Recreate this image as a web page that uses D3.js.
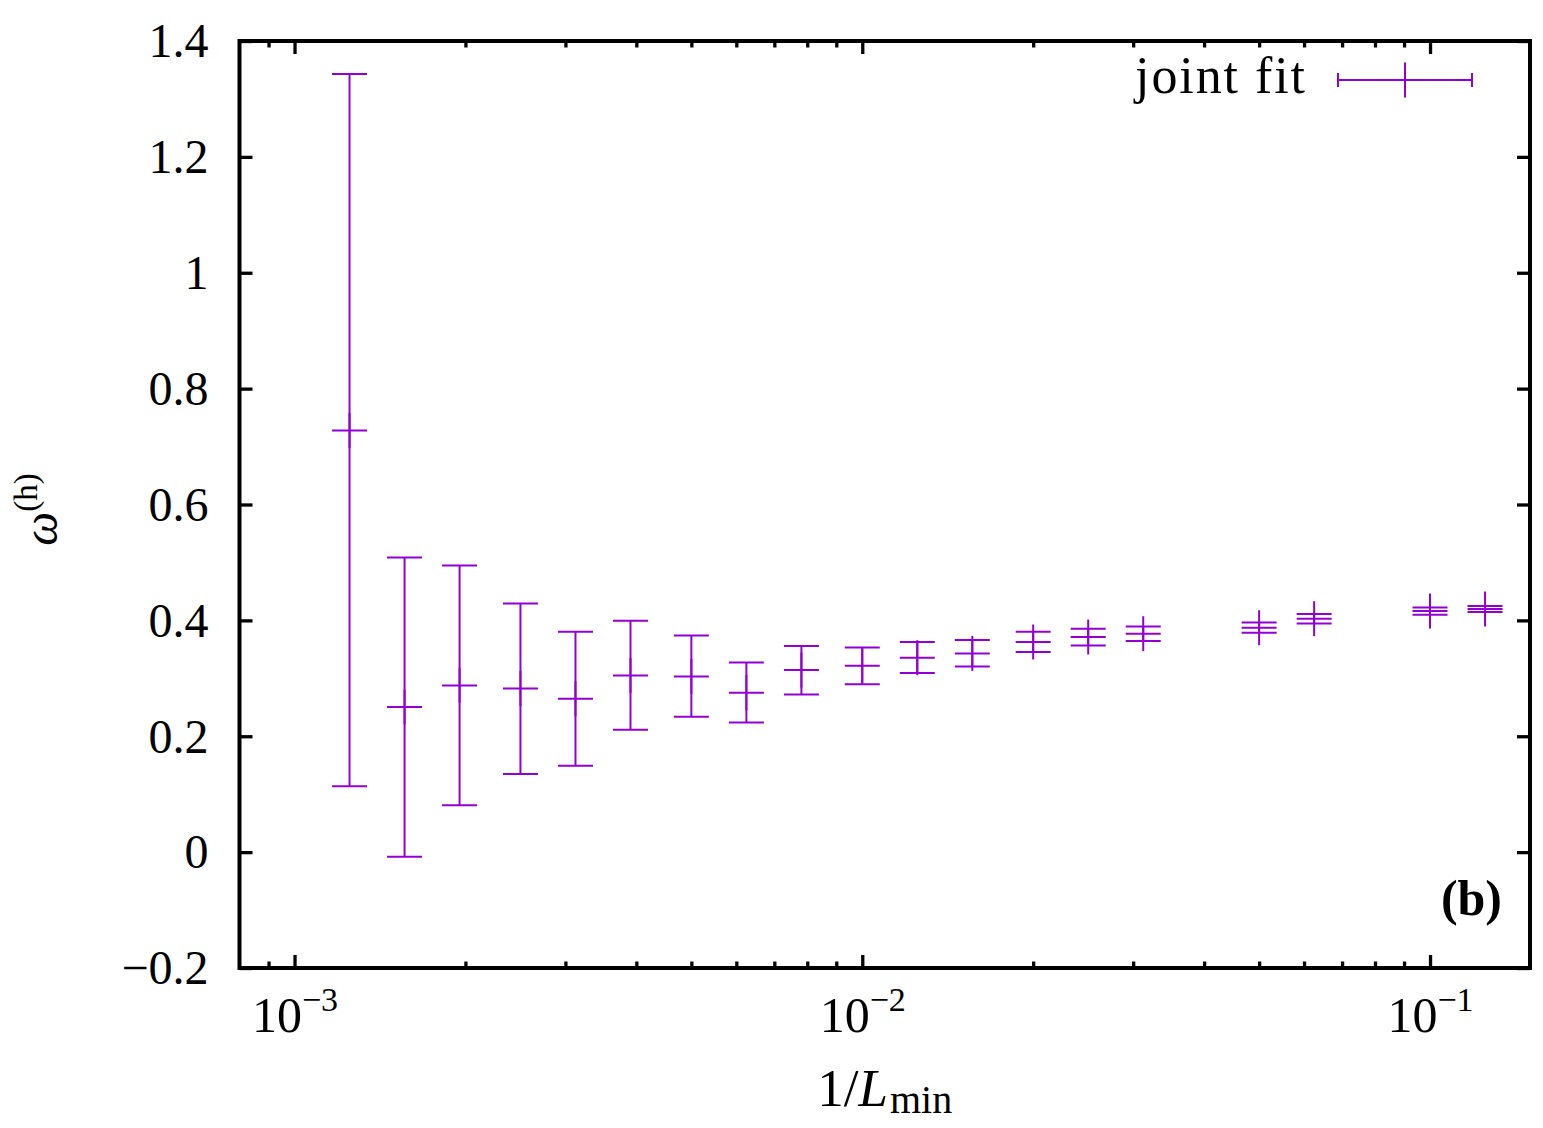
<!DOCTYPE html>
<html>
<head>
<meta charset="utf-8">
<script src="https://cdn.jsdelivr.net/npm/d3@7/dist/d3.min.js"></script>
<style>
  html, body { margin: 0; padding: 0; background: #fff; }
  svg { display: block; }
  text { font-family: "Liberation Serif", "DejaVu Serif", serif; fill: #000; }
</style>
</head>
<body>
<svg id="chart" width="1543" height="1128"></svg>
<script>
// ---- data ----
const Lmin = [800, 640, 512, 400, 320, 256, 200, 160, 128, 100, 80, 64, 50, 40, 32, 20, 16, 10, 8];
const omega = [0.7279, 0.2505, 0.2878, 0.2826, 0.2648, 0.3050, 0.3033, 0.2752, 0.3143, 0.3218,
               0.3356, 0.3430, 0.3627, 0.3713, 0.3770, 0.3873, 0.4029, 0.4161, 0.4196];
const omegaLow = [0.1135, -0.0078, 0.0807, 0.1349, 0.1492, 0.2113, 0.2338, 0.2239, 0.2722, 0.2898,
                  0.3092, 0.3206, 0.3454, 0.3568, 0.3644, 0.3787, 0.3947, 0.4098, 0.4144];
const omegaHigh = [1.3431, 0.5086, 0.4948, 0.4293, 0.3804, 0.3994, 0.3740, 0.3275, 0.3557, 0.3533,
                   0.3627, 0.3661, 0.3804, 0.3856, 0.3896, 0.3965, 0.4110, 0.4223, 0.4248];
const yTicks = [-0.2, 0, 0.2, 0.4, 0.6, 0.8, 1, 1.2, 1.4];
const yTickLabels = ["\u22120.2", "0", "0.2", "0.4", "0.6", "0.8", "1", "1.2", "1.4"];
const xMajorTicks = [1e-3, 1e-2, 1e-1];
const xTickBase = ["10", "10", "10"];
const xTickExp = ["\u22123", "\u22122", "\u22121"];
const xMinorTicks = [9e-4,
  2e-3, 3e-3, 4e-3, 5e-3, 6e-3, 7e-3, 8e-3, 9e-3,
  2e-2, 3e-2, 4e-2, 5e-2, 6e-2, 7e-2, 8e-2, 9e-2];
const seriesName = "joint fit";
const panelLabel = "(b)";

// ---- layout ----
const color = "#9400D3";
const L = 239.5, R = 1530, T = 41, B = 968;
const svg = d3.select("#chart");

const x = d3.scaleLog().domain([8e-4, 0.15]).range([L, R]);
const y = d3.scaleLinear().domain([-0.2, 1.4]).range([B, T]);

const data = Lmin.map((l, i) => ({ x: 1 / l, y: omega[i], lo: omegaLow[i], hi: omegaHigh[i] }));

// ---- axes ----
const fs = 48;
const gL = svg.append("g").attr("transform", `translate(${L},0)`)
  .call(d3.axisLeft(y).tickValues(yTicks).tickSizeInner(-13).tickSizeOuter(0).tickPadding(31)
        .tickFormat((d, i) => yTickLabels[i]));
const gR = svg.append("g").attr("transform", `translate(${R},0)`)
  .call(d3.axisRight(y).tickValues(yTicks).tickSizeInner(-13).tickSizeOuter(0).tickFormat(""));
const gB = svg.append("g").attr("transform", `translate(0,${B})`)
  .call(d3.axisBottom(x).tickValues(xMajorTicks).tickSizeInner(-13).tickSizeOuter(0)
        .tickFormat((d, i) => xTickBase[i]));
const gBm = svg.append("g").attr("transform", `translate(0,${B})`)
  .call(d3.axisBottom(x).tickValues(xMinorTicks).tickSizeInner(-6.5).tickSizeOuter(0).tickFormat(""));
const gT = svg.append("g").attr("transform", `translate(0,${T})`)
  .call(d3.axisTop(x).tickValues(xMajorTicks).tickSizeInner(-13).tickSizeOuter(0).tickFormat(""));
const gTm = svg.append("g").attr("transform", `translate(0,${T})`)
  .call(d3.axisTop(x).tickValues(xMinorTicks).tickSizeInner(-6.5).tickSizeOuter(0).tickFormat(""));

[gL, gR, gB, gBm, gT, gTm].forEach(g => {
  g.select(".domain").remove();
  g.selectAll(".tick line").attr("stroke", "#000").attr("stroke-width", 3.3);
  g.selectAll("text").attr("font-size", fs).attr("font-family", "Liberation Serif, serif").attr("fill", "#000");
});
gL.selectAll(".tick text").attr("dy", "0.33em");
gB.selectAll(".tick text")
  .attr("y", 63.7).attr("dy", 0).attr("font-size", 50)
  .each(function (d, i) {
    d3.select(this).append("tspan").attr("font-size", 34).attr("dy", -21).text(xTickExp[i]);
  });

// frame
svg.append("rect").attr("x", L).attr("y", T).attr("width", R - L).attr("height", B - T)
  .attr("fill", "none").attr("stroke", "#000").attr("stroke-width", 4);

// ---- error bars ----
const hw = 17.5;
const gD = svg.append("g").attr("stroke", color).attr("stroke-width", 2).attr("fill", "none");
const pts = gD.selectAll("g.pt").data(data).join("g").attr("class", "pt");
pts.append("line").attr("x1", d => x(d.x)).attr("x2", d => x(d.x))
  .attr("y1", d => y(d.lo)).attr("y2", d => y(d.hi));
pts.append("line").attr("x1", d => x(d.x) - hw).attr("x2", d => x(d.x) + hw)
  .attr("y1", d => y(d.lo)).attr("y2", d => y(d.lo));
pts.append("line").attr("x1", d => x(d.x) - hw).attr("x2", d => x(d.x) + hw)
  .attr("y1", d => y(d.hi)).attr("y2", d => y(d.hi));
pts.append("line").attr("x1", d => x(d.x) - hw).attr("x2", d => x(d.x) + hw)
  .attr("y1", d => y(d.y)).attr("y2", d => y(d.y));
pts.append("line").attr("x1", d => x(d.x)).attr("x2", d => x(d.x))
  .attr("y1", d => y(d.y) - hw).attr("y2", d => y(d.y) + hw);

// ---- legend ----
const lg = svg.append("g");
lg.append("text").attr("x", 1305).attr("y", 93).attr("text-anchor", "end")
  .attr("font-size", 52).attr("textLength", 170).text(seriesName);
const ly = 80, lx1 = 1338, lx2 = 1472, lxc = (lx1 + lx2) / 2;
const lgs = lg.append("g").attr("stroke", color).attr("stroke-width", 2);
lgs.append("line").attr("x1", lx1).attr("x2", lx2).attr("y1", ly).attr("y2", ly);
lgs.append("line").attr("x1", lx1).attr("x2", lx1).attr("y1", ly - 7).attr("y2", ly + 7);
lgs.append("line").attr("x1", lx2).attr("x2", lx2).attr("y1", ly - 7).attr("y2", ly + 7);
lgs.append("line").attr("x1", lxc).attr("x2", lxc).attr("y1", ly - hw).attr("y2", ly + hw);

// ---- panel label ----
svg.append("text").attr("x", 1502).attr("y", 915).attr("text-anchor", "end")
  .attr("font-size", 50).attr("font-weight", "bold").text(panelLabel);

// ---- axis titles ----
const xt = svg.append("text").attr("x", (L + R) / 2).attr("y", 1106).attr("text-anchor", "middle")
  .attr("font-size", 53);
xt.append("tspan").text("1/");
xt.append("tspan").attr("font-style", "italic").text("L");
xt.append("tspan").attr("font-size", 40).attr("dy", 7).attr("dx", 2).text("min");

const yt = svg.append("text").attr("transform", `translate(57,${(T + B) / 2 + 5}) rotate(-90)`)
  .attr("text-anchor", "middle").attr("font-size", fs);
yt.append("tspan").attr("font-style", "italic").text("\u03c9");
yt.append("tspan").attr("font-size", 33).attr("dy", -20).text("(h)");
</script>
</body>
</html>
